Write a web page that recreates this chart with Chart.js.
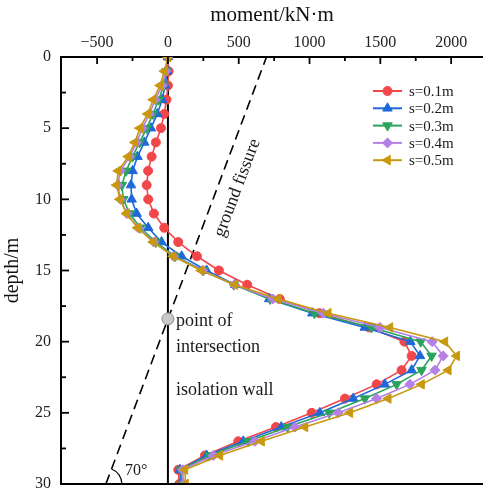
<!DOCTYPE html>
<html>
<head>
<meta charset="utf-8">
<script src="https://cdn.jsdelivr.net/npm/chart.js@4/dist/chart.umd.min.js"></script>
<style>
html,body{margin:0;padding:0;background:#fff;}
#wrap{width:483px;height:490px;position:relative;}
</style>
</head>
<body>
<div id="wrap"><canvas id="c" width="483" height="490"></canvas></div>
<script>
const depths = [0,1,2,3,4,5,6,7,8,9,10,11,12,13,14,15,16,17,18,19,20,21,22,23,24,25,26,27,28,29,30];
const seriesLabels = ['s=0.1m','s=0.2m','s=0.3m','s=0.4m','s=0.5m'];
const s01 = [0,5,0,-10,-26,-49,-85,-115,-140,-150,-139,-99,-26,73,205,360,560,790,1070,1420,1670,1721,1650,1474,1250,1015,763,497,261,73,80];
const s02 = [0,-5,-20,-40,-75,-120,-167,-215,-249,-261,-256,-221,-139,-45,97,273,475,715,1020,1390,1712,1780,1721,1532,1309,1073,800,532,273,85,90];
const s03 = [0,-10,-30,-65,-105,-150,-200,-250,-295,-325,-315,-270,-195,-85,50,250,465,722,1035,1438,1785,1862,1791,1615,1391,1139,845,567,292,92,100];
const s04 = [0,-15,-40,-90,-130,-180,-220,-270,-335,-355,-335,-290,-210,-100,40,245,470,740,1097,1497,1866,1944,1886,1709,1474,1203,897,614,320,104,110];
const s05 = [0,-25,-55,-104,-143,-198,-233,-280,-351,-362,-339,-292,-214,-104,37,235,473,779,1132,1568,1956,2039,1980,1791,1556,1285,968,661,367,120,125];
const xTicks = [-500,0,500,1000,1500,2000];
const yTicks = [0,5,10,15,20,25,30];
// reference lines (data coordinates)
const fissureX = [-438, 696];
const fissureY = [30, 0];
const wallX = [0, 0];
const wallY = [0, 30];
const intersection = {x: 0, y: 18.4};

const SERIF = "'Liberation Serif','Times New Roman',serif";
const colors = ['#F2474A','#1F68DA','#2AA35B','#B47FE6','#C8980E'];
const styles = [
  {ps:'circle', rot:0, r:4.5},
  {ps:'triangle', rot:0, r:5.5},
  {ps:'triangle', rot:180, r:5.5},
  {ps:'rectRot', rot:0, r:5},
  {ps:'triangle', rot:-90, r:5.5}
];
const allSeries = [s01,s02,s03,s04,s05];

const datasets = allSeries.map((s,i)=>({
  label: seriesLabels[i],
  data: s.map((v,k)=>({x:v, y:depths[k]})),
  borderColor: colors[i],
  backgroundColor: colors[i],
  borderWidth: 1.6,
  pointStyle: styles[i].ps,
  rotation: styles[i].rot,
  pointRadius: styles[i].r,
  pointBorderWidth: 1,
  tension: 0,
  order: 5 - i,
  isSeries: true
}));
datasets.push({
  label: 'wall',
  data: wallX.map((v,k)=>({x:v,y:wallY[k]})),
  borderColor:'#000', borderWidth:2, pointRadius:0, order:20, clip:false
});
datasets.push({
  label: 'fissure',
  data: fissureX.map((v,k)=>({x:v,y:fissureY[k]})),
  borderColor:'#000', borderWidth:1.6, borderDash:[10,6], pointRadius:0, order:21
});
datasets.push({
  label: 'intersection',
  data: [intersection],
  showLine:false,
  pointRadius:6, pointBackgroundColor:'#c8c8c8', pointBorderColor:'#8a8a8a', pointBorderWidth:1,
  order: 6
});

function zeroPad(scale){
  scale.paddingTop = 0; scale.paddingBottom = 0;
  scale.paddingLeft = 0; scale.paddingRight = 0;
}

const decorPlugin = {
  id:'decor',
  afterDraw(chart){
    const ctx = chart.ctx;
    const xs = chart.scales.x, ys = chart.scales.y;
    const ca = chart.chartArea;
    ctx.save();
    ctx.strokeStyle = '#000';
    ctx.lineWidth = 2;
    // bottom border
    ctx.beginPath(); ctx.moveTo(ca.left-1, ca.bottom); ctx.lineTo(ca.right, ca.bottom); ctx.stroke();
    // inward ticks top
    ctx.lineWidth = 1.8;
    for (let v=-750; v<=xs.max; v+=250){
      const px = xs.getPixelForValue(v);
      if (px < ca.left+1) continue;
      const len = (v % 500 === 0) ? 7 : 4;
      ctx.beginPath(); ctx.moveTo(px, ca.top); ctx.lineTo(px, ca.top+len); ctx.stroke();
    }
    // inward ticks left
    for (let v=2.5; v<30; v+=2.5){
      const py = ys.getPixelForValue(v);
      const len = (v % 5 === 0) ? 8 : 5;
      ctx.beginPath(); ctx.moveTo(ca.left, py); ctx.lineTo(ca.left+len, py); ctx.stroke();
    }
    // texts
    ctx.fillStyle = '#1a1a1a';
    ctx.font = '18px ' + SERIF;
    ctx.textBaseline = 'middle';
    ctx.textAlign = 'left';
    const tx = xs.getPixelForValue(0) + 8;
    ctx.fillText('point of', tx, ys.getPixelForValue(18.6));
    ctx.fillText('intersection', tx, ys.getPixelForValue(20.4));
    ctx.fillText('isolation wall', tx, ys.getPixelForValue(23.4));
    // ground fissure rotated
    const p1x = xs.getPixelForValue(fissureX[0]), p1y = ys.getPixelForValue(fissureY[0]);
    const p2x = xs.getPixelForValue(fissureX[1]), p2y = ys.getPixelForValue(fissureY[1]);
    const ang = Math.atan2(p2y-p1y, p2x-p1x);
    ctx.save();
    ctx.translate(xs.getPixelForValue(490), ys.getPixelForValue(9.2));
    ctx.rotate(ang);
    ctx.textAlign = 'center';
    ctx.fillText('ground fissure', 0, 0);
    ctx.restore();
    // angle arc and label
    ctx.lineWidth = 1.2;
    ctx.beginPath();
    ctx.arc(p1x, p1y, 16, ang, 0);
    ctx.stroke();
    ctx.font = '16px ' + SERIF;
    ctx.textAlign = 'left';
    ctx.fillText('70°', p1x+19, p1y-13);
    // legend
    const lx = 373, lw = 29;
    let ly = 91;
    ctx.font = '15px ' + SERIF;
    chart.data.datasets.forEach((ds)=>{
      if (!ds.isSeries) return;
      ctx.strokeStyle = ds.borderColor;
      ctx.fillStyle = ds.borderColor;
      ctx.lineWidth = 2;
      ctx.beginPath(); ctx.moveTo(lx, ly); ctx.lineTo(lx+lw, ly); ctx.stroke();
      ctx.lineWidth = 1;
      Chart.helpers.drawPoint(ctx, {pointStyle: ds.pointStyle, rotation: ds.rotation, radius: ds.pointRadius, borderWidth:1}, lx+lw/2, ly);
      ctx.fillStyle = '#1a1a1a';
      ctx.fillText(ds.label, lx+lw+7, ly+1);
      ly += 17.3;
    });
    ctx.restore();
  }
};

new Chart(document.getElementById('c'), {
  type: 'line',
  data: { datasets },
  options: {
    responsive: false,
    devicePixelRatio: 1,
    animation: false,
    events: [],
    layout: { autoPadding: false, padding: {top:0, left:0, right:0, bottom:6} },
    plugins: { legend: {display:false}, tooltip: {enabled:false} },
    scales: {
      x: {
        type: 'linear',
        position: 'top',
        min: -755, max: 2225,
        afterFit(scale){ scale.height = 57; zeroPad(scale); },
        afterBuildTicks(scale){ scale.ticks = xTicks.map(v=>({value:v})); },
        grid: { display:false, drawTicks:false },
        border: { display:true, color:'#000', width:2 },
        ticks: {
          font: { family: SERIF, size: 16 },
          color: '#222',
          padding: 5,
          maxRotation: 0,
          callback: (v)=> String(v).replace('-', '\u2212')
        },
        title: {
          display: true, text: 'moment/kN·m',
          font: { family: SERIF, size: 21 },
          color: '#111',
          padding: { top: 3, bottom: 0 }
        }
      },
      y: {
        type: 'linear',
        reverse: true,
        min: 0, max: 30,
        afterFit(scale){ scale.width = 61; zeroPad(scale); },
        afterBuildTicks(scale){ scale.ticks = yTicks.map(v=>({value:v})); },
        grid: { display:false, drawTicks:false },
        border: { display:true, color:'#000', width:2 },
        ticks: {
          font: { family: SERIF, size: 16 },
          color: '#222',
          padding: 10
        },
        title: {
          display: true, text: 'depth/m',
          font: { family: SERIF, size: 20 },
          color: '#111',
          padding: { top: 1, bottom: 0 }
        }
      }
    }
  },
  plugins: [decorPlugin]
});
</script>
</body>
</html>
